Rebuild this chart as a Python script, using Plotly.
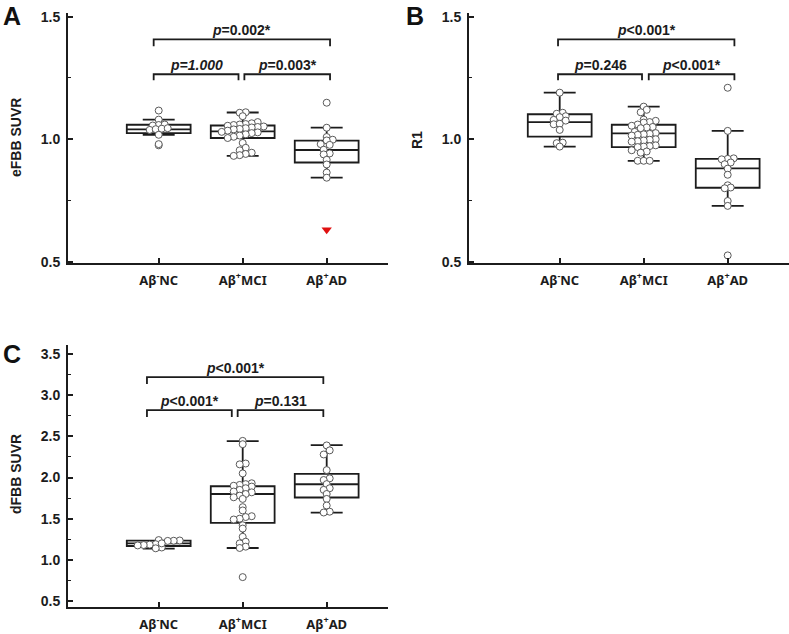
import math
import plotly.graph_objects as go

# ---------------- data ----------------
categories = ["Aβ<sup>-</sup>NC", "Aβ<sup>+</sup>MCI", "Aβ<sup>+</sup>AD"]

# Panel A : eFBB SUVR
A_NC = [1.117, 1.080, 1.058, 1.060, 1.056, 1.038, 1.041, 1.043, 1.045, 1.018, 0.975, 0.980]
A_MCI = [1.110, 1.108, 1.094, 1.070, 1.065, 1.062, 1.060, 1.058, 1.055, 1.052, 1.050, 1.048,
         1.045, 1.042, 1.040, 1.035, 1.030, 1.028, 1.025, 1.020, 1.015, 1.010, 1.005, 0.985,
         0.965, 0.955, 0.945, 0.940, 0.935, 0.932]
A_AD = [1.149, 1.047, 1.009, 0.998, 0.995, 0.980, 0.977, 0.957, 0.942, 0.938, 0.916, 0.897,
        0.864, 0.843]
A_AD_flagged = [0.631]
A_q1 = [1.025, 1.005, 0.905]
A_median = [1.040, 1.032, 0.956]
A_q3 = [1.059, 1.056, 0.994]
A_low = [1.018, 0.932, 0.843]
A_high = [1.080, 1.109, 1.047]
A_p = ["<i>p</i>=0.002*", "<i>p=1.000</i>", "<i>p</i>=0.003*"]

# Panel B : R1
B_NC = [1.190, 1.108, 1.104, 1.094, 1.090, 1.079, 1.076, 1.061, 1.063, 1.038, 0.986, 0.984, 0.970]
B_MCI = [1.133, 1.120, 1.110, 1.080, 1.075, 1.070, 1.068, 1.060, 1.055, 1.050, 1.048, 1.045,
         1.030, 1.025, 1.022, 1.020, 1.018, 1.015, 1.000, 0.998, 0.995, 0.992, 0.990, 0.975,
         0.972, 0.970, 0.968, 0.955, 0.950, 0.945, 0.912, 0.912, 0.912]
B_AD = [1.210, 1.034, 0.922, 0.920, 0.918, 0.905, 0.898, 0.880, 0.855, 0.812, 0.803, 0.800,
        0.748, 0.728, 0.526]
B_q1 = [1.011, 0.968, 0.802]
B_median = [1.070, 1.024, 0.881]
B_q3 = [1.102, 1.059, 0.920]
B_low = [0.970, 0.912, 0.728]
B_high = [1.190, 1.133, 1.034]
B_p = ["<i>p</i>&lt;0.001*", "<i>p</i>=0.246", "<i>p</i>&lt;0.001*"]

# Panel C : dFBB SUVR
C_NC = [1.240, 1.235, 1.232, 1.230, 1.190, 1.185, 1.180, 1.175, 1.150, 1.140, 1.200]
C_MCI = [2.445, 2.405, 2.170, 2.160, 2.050, 1.930, 1.920, 1.910, 1.900, 1.890, 1.870, 1.850,
         1.830, 1.820, 1.800, 1.780, 1.760, 1.740, 1.640, 1.600, 1.530, 1.520, 1.500, 1.490,
         1.420, 1.380, 1.280, 1.220, 1.200, 1.160, 1.144, 0.790]
C_AD = [2.390, 2.330, 2.280, 2.090, 1.990, 1.970, 1.920, 1.870, 1.850, 1.800, 1.740, 1.660,
        1.585, 1.575]
C_q1 = [1.168, 1.448, 1.757]
C_median = [1.200, 1.800, 1.918]
C_q3 = [1.233, 1.894, 2.044]
C_low = [1.137, 1.144, 1.574]
C_high = [1.233, 2.442, 2.393]
C_p = ["<i>p</i>&lt;0.001*", "<i>p</i>&lt;0.001*", "<i>p</i>=0.131"]

# ---------------- layout helpers ----------------
W, H = 789, 634
DARK = "#1c1c1c"
AX_FONT = "Liberation Sans, Arial, sans-serif"
CAT_FONT = "Noto Sans, Open Sans, sans-serif"
XRANGE = [-1.08, 2.73]
PX_PER_CAT = 84.0


def px_x(p):
    return p / W


def px_y(p):
    return 1 - p / H


def swarm(values, ppu_y, bin_px=6.0, step_px=6.0):
    """Binned beeswarm: points falling in the same vertical bin are laid side by side."""
    bins = {}
    for i, v in enumerate(values):
        b = int(math.floor(v * ppu_y / bin_px))
        bins.setdefault(b, []).append(i)
    offs = [0.0] * len(values)
    for b, idx in bins.items():
        idx.sort(key=lambda i: values[i])
        n = len(idx)
        for j, i in enumerate(idx):
            offs[i] = (j - (n - 1) / 2.0) * step_px / PX_PER_CAT
    return offs


panels = [
    dict(key="", groups=[A_NC, A_MCI, A_AD], q1=A_q1, med=A_median, q3=A_q3, lo=A_low, hi=A_high,
         p=A_p, xdom=[68, 388], ydom=[13, 263], yrange=[0.495, 1.515], dtick=0.5, minor=0.25,
         title="eFBB SUVR", title_pos=(16, 138), letter="A", letter_pos=(12, 16),
         brackets=[(-0.06, 2.04, 1.407, 1.379), (-0.06, 0.95, 1.265, 1.241), (1.02, 2.04, 1.265, 1.241)]),
    dict(key="2", groups=[B_NC, B_MCI, B_AD], q1=B_q1, med=B_median, q3=B_q3, lo=B_low, hi=B_high,
         p=B_p, xdom=[469, 789], ydom=[13, 263], yrange=[0.495, 1.515], dtick=0.5, minor=0.25,
         title="R1", title_pos=(417, 140), letter="B", letter_pos=(415, 16),
         brackets=[(-0.02, 2.08, 1.407, 1.379), (-0.02, 0.98, 1.265, 1.241), (1.06, 2.08, 1.265, 1.241)]),
    dict(key="3", groups=[C_NC, C_MCI, C_AD], q1=C_q1, med=C_median, q3=C_q3, lo=C_low, hi=C_high,
         p=C_p, xdom=[68, 388], ydom=[345, 607], yrange=[0.427, 3.61], dtick=0.5, minor=0.25,
         title="dFBB SUVR", title_pos=(16, 474), letter="C", letter_pos=(12, 354),
         brackets=[(-0.14, 1.96, 3.22, 3.135), (-0.14, 0.87, 2.82, 2.735), (0.94, 1.96, 2.82, 2.735)]),
]

fig = go.Figure()
shapes = []
annotations = []
layout_axes = {}

for pnl in panels:
    k = pnl["key"]
    xa, ya = "x" + k, "y" + k
    ypix = pnl["ydom"][1] - pnl["ydom"][0]
    ppu_y = ypix / (pnl["yrange"][1] - pnl["yrange"][0])

    # boxes (precomputed statistics)
    fig.add_trace(go.Box(
        x=[0, 1, 2], q1=pnl["q1"], median=pnl["med"], q3=pnl["q3"],
        lowerfence=pnl["lo"], upperfence=pnl["hi"],
        boxpoints=False, width=0.76, whiskerwidth=0.5,
        fillcolor="rgba(255,255,255,0)", line=dict(color=DARK, width=1.8),
        xaxis=xa, yaxis=ya, showlegend=False, hoverinfo="skip"))

    # individual points
    for gi, vals in enumerate(pnl["groups"]):
        offs = swarm(vals, ppu_y)
        fig.add_trace(go.Scatter(
            x=[gi + o for o in offs], y=vals, mode="markers",
            marker=dict(size=7, color="white", line=dict(color="#5a5a5a", width=1)),
            xaxis=xa, yaxis=ya, showlegend=False, hoverinfo="y"))

    if k == "":
        fig.add_trace(go.Scatter(
            x=[2.0] * len(A_AD_flagged), y=A_AD_flagged, mode="markers",
            marker=dict(symbol="triangle-down", size=9, color="#e01010", line=dict(width=0)),
            xaxis=xa, yaxis=ya, showlegend=False, hoverinfo="y"))

    # axes
    layout_axes["xaxis" + k] = dict(
        domain=[px_x(pnl["xdom"][0]), px_x(pnl["xdom"][1])], range=XRANGE, anchor=ya,
        tickvals=[0, 1, 2], ticktext=categories, ticks="inside", ticklen=5, tickwidth=1.5,
        tickcolor=DARK, showline=True, linecolor=DARK, linewidth=1.8, showgrid=False,
        zeroline=False, ticklabelstandoff=4, automargin=False,
        tickfont=dict(family=CAT_FONT, size=13, color=DARK, weight="bold"))
    layout_axes["yaxis" + k] = dict(
        domain=[px_y(pnl["ydom"][1]), px_y(pnl["ydom"][0])], range=pnl["yrange"], anchor=xa,
        dtick=pnl["dtick"], tick0=0, tickformat=".1f", ticks="inside", ticklen=5, tickwidth=1.5,
        tickcolor=DARK, showline=True, linecolor=DARK, linewidth=1.8, showgrid=False,
        zeroline=False, ticklabelstandoff=3, automargin=False,
        minor=dict(ticks="inside", ticklen=3, dtick=pnl["minor"], tickcolor=DARK, tickwidth=1.2,
                   showgrid=False),
        tickfont=dict(family=AX_FONT, size=14, color=DARK, weight="bold"))

    # significance brackets
    for (x0, x1, ytop, yleg), txt in zip(pnl["brackets"], pnl["p"]):
        shapes.append(dict(type="path", xref=xa, yref=ya,
                           path=f"M {x0},{yleg} L {x0},{ytop} L {x1},{ytop} L {x1},{yleg}",
                           line=dict(color=DARK, width=1.8)))
        annotations.append(dict(x=(x0 + x1) / 2, y=ytop, xref=xa, yref=ya, text=txt,
                                showarrow=False, yanchor="bottom", yshift=-1,
                                font=dict(family=AX_FONT, size=14, color=DARK, weight="bold")))

    # axis title and panel letter
    tx, ty = pnl["title_pos"]
    annotations.append(dict(x=px_x(tx), y=px_y(ty), xref="paper", yref="paper", text=pnl["title"],
                            textangle=-90, showarrow=False, xanchor="center", yanchor="middle",
                            font=dict(family=AX_FONT, size=14, color=DARK, weight="bold")))
    lx, ly = pnl["letter_pos"]
    annotations.append(dict(x=px_x(lx), y=px_y(ly), xref="paper", yref="paper", text=pnl["letter"],
                            showarrow=False, xanchor="center", yanchor="middle",
                            font=dict(family=AX_FONT, size=25, color="#111111", weight="bold")))

fig.update_layout(
    width=W, height=H, margin=dict(l=0, r=0, t=0, b=0, autoexpand=False),
    paper_bgcolor="white", plot_bgcolor="white",
    shapes=shapes, annotations=annotations, **layout_axes)

fig.write_html("out.html", config={"displayModeBar": False},
               post_script="document.body.style.margin='0px';document.body.style.overflow='hidden';")
